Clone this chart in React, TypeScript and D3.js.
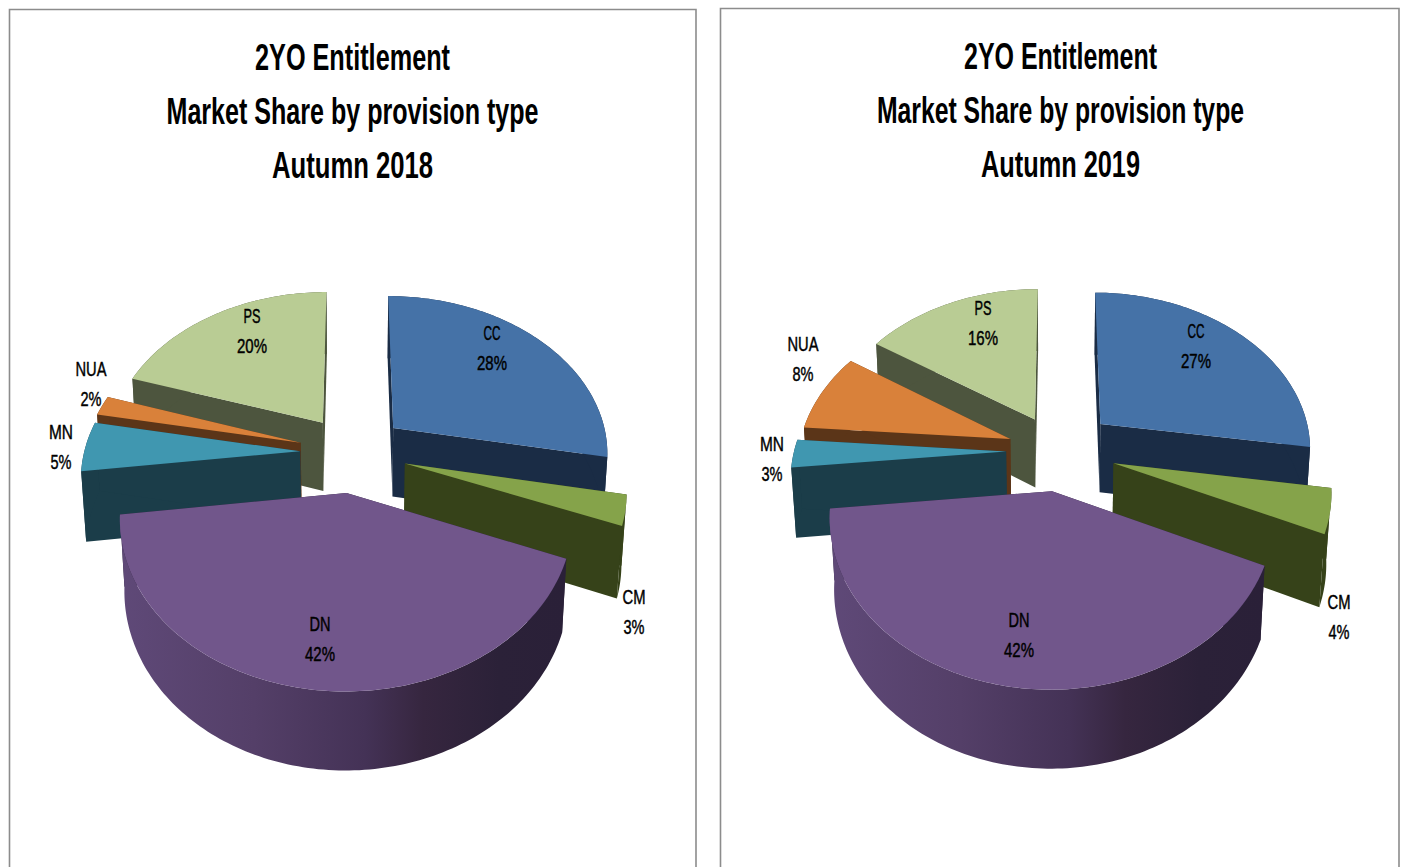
import React from "react";
import * as d3 from "d3";

const categories = ["CC", "CM", "DN", "MN", "NUA", "PS"];
const shares2018 = [28, 3, 42, 5, 2, 20];
const shares2019 = [27.4, 4.4, 41.6, 2.8, 8, 15.8];
const titleLines = ["2YO Entitlement", "Market Share by provision type"];
const years = ["Autumn 2018", "Autumn 2019"];

const topColors = ["#4572A7", "#85A34A", "#71568B", "#4097B0", "#D9813A", "#B9CC94"];
const wallColors = ["#1A2C45", "#364219", "#2A2038", "#1B3D49", "#5B3518", "#4D553E"];
const paintOrder = ["PS", "NUA", "MN", "CC", "CM", "DN"];
const nameWidths: Record<string, number> = { CC: 17, CM: 23, DN: 21, MN: 24, NUA: 31, PS: 17 };

const K = 0.143, KZ = 0.0185, DEPTH = 70.8, RY = 157.3;

type Cfg = {
  cx: number; cy: number; rx: number; titleX: number; titleY: number[]; titleW: number[];
  values: number[]; explode: number[]; shift: number[]; year: string; labels: Record<string, [number, number]>; grad: string;
};
const charts: Cfg[] = [
  {
    cx: 352.5, cy: 452.5, rx: 216, titleX: 352.5, titleY: [70, 124, 178], titleW: [195, 372, 161],
    values: shares2018, explode: [0.25, 0.25, 0.25, 0.243, 0.25, 0.24], shift: [0, 0, 1, 0, 0, 0], year: years[0], grad: "dn18",
    labels: { CC: [492, 333], CM: [634, 597], DN: [320, 624], MN: [61, 432], NUA: [91, 369], PS: [252, 316] },
  },
  {
    cx: 1058, cy: 451, rx: 212, titleX: 1060.5, titleY: [69, 123, 177], titleW: [193, 367, 159],
    values: shares2019, explode: [0.27, 0.27, 0.25, 0.24, 0.24, 0.235], shift: [0, 0, 3, -1, 0, 0], year: years[1], grad: "dn19",
    labels: { CC: [1196, 331], CM: [1339, 602], DN: [1019, 620], MN: [772, 444], NUA: [803, 344], PS: [983, 308] },
  },
];

const line = d3.line<[number, number]>();

function sliceShapes(c: Cfg, start: number, end: number, e: number, dx: number) {
  const mid = (start + end) / 2;
  const u0 = e * Math.sin(mid), v0 = -e * Math.cos(mid);
  const proj = (u: number, v: number, z: number): [number, number] => {
    const w = 1 - K * v + z * KZ;
    return [c.cx + dx + (c.rx * u) / w, c.cy + (RY * v + z * DEPTH) / w];
  };
  const rim = (t: number, z: number) => proj(u0 + Math.sin(t), v0 - Math.cos(t), z);
  const n = Math.max(2, Math.ceil((end - start) / 0.02));
  const angles = d3.range(n + 1).map((i) => start + ((end - start) * i) / n);
  const apexT = proj(u0, v0, 0), apexB = proj(u0, v0, 1);
  return {
    top: line([apexT, ...angles.map((t) => rim(t, 0))]) + "Z",
    rim: line([...angles.map((t) => rim(t, 0)), ...angles.slice().reverse().map((t) => rim(t, 1))]) + "Z",
    startWall: line([apexT, rim(start, 0), rim(start, 1), apexB]) + "Z",
    endWall: line([apexT, rim(end, 0), rim(end, 1), apexB]) + "Z",
  };
}

function Pie3D({ c }: { c: Cfg }) {
  const arcs = d3.pie<number>().sort(null).value((d) => d).startAngle(0).endAngle(2 * Math.PI)(c.values);
  return (
    <g>
      <defs>
        <linearGradient id={c.grad} x1="0" x2="1" y1="0" y2="0">
          <stop offset="0" stopColor="#5F4978" />
          <stop offset="0.3" stopColor="#543F68" />
          <stop offset="0.55" stopColor="#443256" />
          <stop offset="0.68" stopColor="#36263F" />
          <stop offset="0.85" stopColor="#2B2138" />
          <stop offset="1" stopColor="#2A2038" />
        </linearGradient>
      </defs>
      {paintOrder.map((name) => {
        const i = categories.indexOf(name);
        const s = sliceShapes(c, arcs[i].startAngle, arcs[i].endAngle, c.explode[i], c.shift[i]);
        return (
          <g key={name}>
            <path d={s.startWall} fill={wallColors[i]} />
            <path d={s.endWall} fill={wallColors[i]} />
            <path d={s.rim} fill={name === "DN" ? `url(#${c.grad})` : wallColors[i]} />
            <path d={s.top} fill={topColors[i]} />
          </g>
        );
      })}
      {categories.map((name, i) => {
        const [x, y] = c.labels[name];
        const pct = Math.round(c.values[i]);
        return (
          <g key={name} fontFamily="'Liberation Sans Narrow','Liberation Sans',sans-serif" fontSize={20} fill="#000" stroke="#000" strokeWidth={0.45} textAnchor="middle">
            <text x={x} y={y + 7} textLength={nameWidths[name]} lengthAdjust="spacingAndGlyphs">{name}</text>
            <text x={x} y={y + 37} textLength={pct >= 10 ? 30 : 21} lengthAdjust="spacingAndGlyphs">{pct}%</text>
          </g>
        );
      })}
      <g fontFamily="'Liberation Sans Narrow','Liberation Sans',sans-serif" fontWeight={700} fontSize={37} fill="#000" textAnchor="middle">
        {[titleLines[0], titleLines[1], c.year].map((t, i) => (
          <text key={i} x={c.titleX} y={c.titleY[i]} textLength={c.titleW[i]} lengthAdjust="spacingAndGlyphs">{t}</text>
        ))}
      </g>
    </g>
  );
}

export default function App() {
  return (
    <svg width={1403} height={867} style={{ position: "absolute", left: 0, top: 0, background: "#fff" }}>
      <path d="M9.5,867V9.5H696V867" fill="none" stroke="#8C8C8C" strokeWidth={1.6} />
      <path d="M720.5,867V8.5H1399V867" fill="none" stroke="#8C8C8C" strokeWidth={1.6} />
      {charts.map((c) => <Pie3D key={c.year} c={c} />)}
    </svg>
  );
}
